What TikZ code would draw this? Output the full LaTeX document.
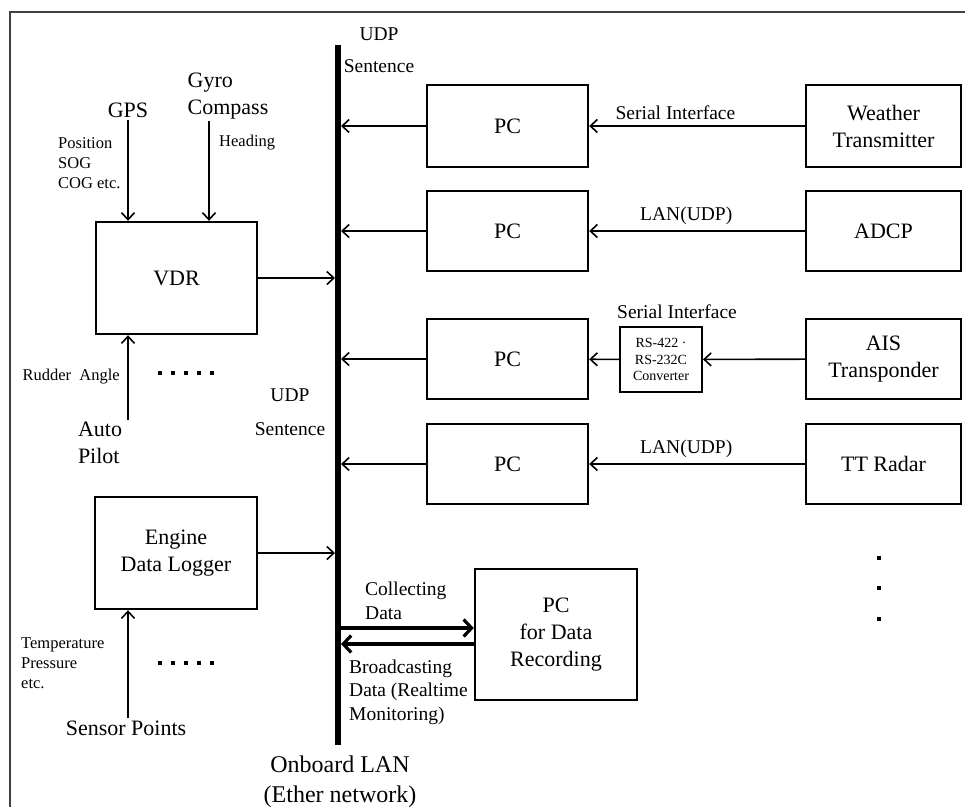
\documentclass[tikz,border=0pt]{standalone}
\usepackage{fontspec}
\setmainfont{Liberation Serif}
\usetikzlibrary{arrows.meta}

\newcommand{\lbig}{\fontsize{22}{27}\selectfont}
\newcommand{\lhuge}{\fontsize{24}{30}\selectfont}
\newcommand{\lmid}{\fontsize{19.5}{23.5}\selectfont}
\newcommand{\lsmall}{\fontsize{16.5}{20}\selectfont}
\newcommand{\ltiny}{\fontsize{14}{16.5}\selectfont}

\begin{document}
\begin{tikzpicture}[x=1pt, y=-1pt, every node/.style={font=\lbig, inner sep=2pt},
    box/.style={draw, line width=2.4pt, align=center},
    arr/.style={-{Straight Barb[length=7pt,width=13pt]}, line width=1.6pt},
    fat/.style={-{Straight Barb[length=8pt,width=17pt]}, line width=3.2pt}]
            \useasboundingbox (0,0) rectangle (965,807);

            % Frame
            \draw[line width=1.8pt, black!75] (10,807) -- (10,12) -- (965,12);

            % Onboard LAN (bus)
            \coordinate (bustop) at (338,45);
            \coordinate (busbot) at (338,745);
            \draw[line width=6.5pt] (bustop) -- (busbot);
            \node[font=\lmid, align=center] (udptop) at (379,50) {UDP\\[9pt]Sentence};
            \node[font=\lmid, align=center] (udpmid) at (290,412) {UDP\\[11pt]Sentence};
            \node[font=\lhuge, align=center] (lan) at (340,782) {Onboard LAN\\(Ether network)};

            % Left side: VDR and its sensors
            \node[box, minimum width=161pt, minimum height=112pt] (vdr) at (176.5,278) {VDR};
            \node (gps) at (128,110) {GPS};
            \node[align=left] (gyro) at (228,96) {Gyro\\Compass};
            \node[font=\lsmall, align=left, anchor=west] (posinfo) at (56,163) {Position\\SOG\\COG etc.};
            \node[font=\lsmall, anchor=west] (heading) at (217,143) {Heading};
            \node[font=\lsmall, anchor=east] (rudder) at (122,377) {Rudder\ \ Angle};
            \node[align=left] (autopilot) at (100,443) {Auto\\Pilot};

            \draw[arr] (gps.south) -- (gps.south |- vdr.north);
            \draw[arr] ([xshift=-19pt]gyro.south) -- ([xshift=-19pt]gyro.south |- vdr.north);
            \draw[arr] (autopilot.north -| gps.south) -- (gps.south |- vdr.south);
            \draw[arr, shorten >=3pt] (vdr.east) -- (vdr.east -| bustop);
            \foreach \i in {0,...,4} \fill (158+13*\i,371) rectangle +(4,4);

            % Left side: engine data logger
            \node[box, minimum width=162pt, minimum height=112pt] (engine) at (176,553) {Engine\\Data Logger};
            \node (sensor) at (126,728) {Sensor Points};
            \node[font=\lsmall, align=left, anchor=west] (tempinfo) at (19,663) {Temperature\\Pressure\\etc.};

            \draw[arr] (sensor.north -| gps.south) -- (gps.south |- engine.south);
            \draw[arr, shorten >=3pt] (engine.east) -- (engine.east -| bustop);
            \foreach \i in {0,...,4} \fill (158+13*\i,661) rectangle +(4,4);

            % Right side: PCs
            \node[box, minimum width=161pt, minimum height=82pt] (pc1) at (507.5,126) {PC};
            \node[box, minimum width=161pt, minimum height=80pt] (pc2) at (507.5,231) {PC};
            \node[box, minimum width=161pt, minimum height=80pt] (pc3) at (507.5,359) {PC};
            \node[box, minimum width=161pt, minimum height=80pt] (pc4) at (507.5,464) {PC};

            % Right side: instruments
            \node[box, minimum width=155pt, minimum height=82pt] (weather) at (883.5,126) {Weather\\Transmitter};
            \node[box, minimum width=155pt, minimum height=80pt] (adcp) at (883.5,231) {ADCP};
            \node[box, minimum width=155pt, minimum height=80pt] (ais) at (883.5,359) {AIS\\Transponder};
            \node[box, minimum width=155pt, minimum height=80pt] (radar) at (883.5,464) {TT Radar};
            \node[draw, line width=2pt, minimum width=82pt, minimum height=65pt, inner sep=0pt, font=\ltiny, align=center] (conv) at (661,359.5) {RS-422 ·\\RS-232C\\Converter};
            \node[font=\lmid, anchor=south] (serial3) at ([xshift=16pt, yshift=5pt]conv.north) {Serial Interface};
            \foreach \y in {558,588,619} \fill (877,\y-2) rectangle +(4,4);

            % Interfaces
            \draw[arr] (weather) -- (pc1) node[pos=.6, above=4pt, font=\lmid] {Serial Interface};
            \draw[arr] (adcp) -- (pc2) node[pos=.55, above=4pt, font=\lmid] {LAN(UDP)};
            \draw[arr] (ais) -- (conv);
            \draw[arr] (conv) -- (pc3);
            \draw[arr] (radar) -- (pc4) node[pos=.55, above=4pt, font=\lmid] {LAN(UDP)};

            % PCs to the LAN
            \draw[arr, shorten >=3pt] (pc1.west) -- (pc1.west -| bustop);
            \draw[arr, shorten >=3pt] (pc2.west) -- (pc2.west -| bustop);
            \draw[arr, shorten >=3pt] (pc3.west) -- (pc3.west -| bustop);
            \draw[arr, shorten >=3pt] (pc4.west) -- (pc4.west -| bustop);

            % PC for data recording
            \node[box, minimum width=162pt, minimum height=131pt] (rec) at (556,634.5) {PC\\for Data\\Recording};
            \coordinate (colin) at ([yshift=6.5pt]rec.west);
            \coordinate (bcout) at ([yshift=-9.5pt]rec.west);
            \draw[fat, shorten <=3pt] (colin -| bustop) -- (colin);
            \draw[fat, shorten >=3pt] (bcout) -- (bcout -| bustop);
            \node[font=\lmid, align=left, anchor=west] (collect) at (363,601) {Collecting\\Data};
            \node[font=\lmid, align=left, anchor=west] (broadcast) at (347,692) {Broadcasting\\Data (Realtime\\Monitoring)};

        \end{tikzpicture}
\end{document}
